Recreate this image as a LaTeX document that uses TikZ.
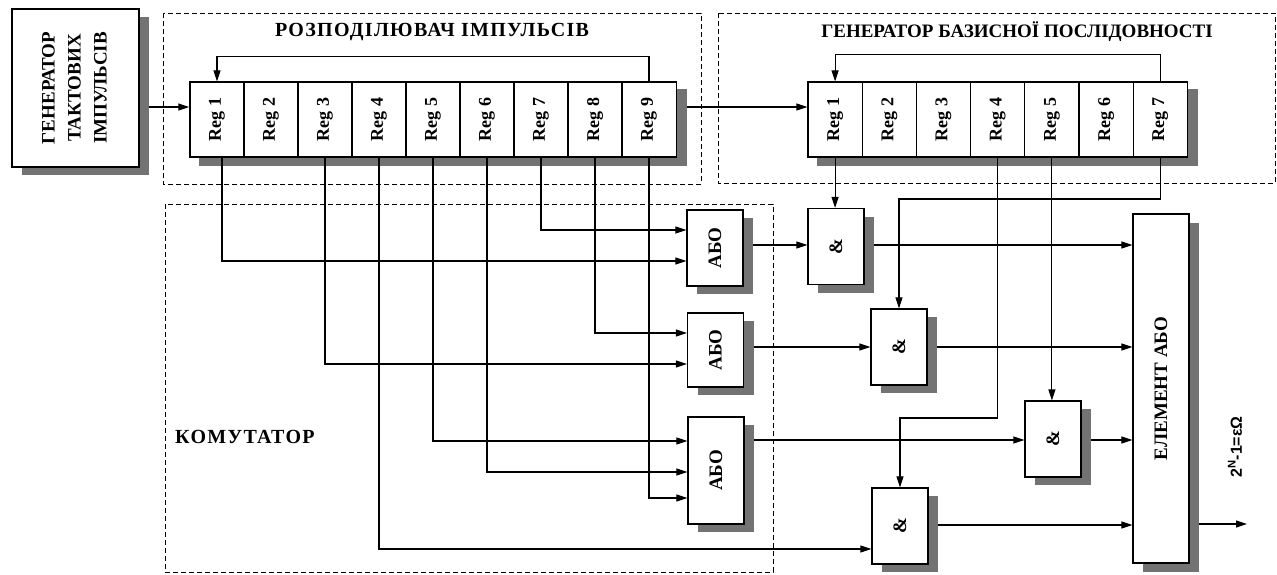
\documentclass[tikz,border=0pt]{standalone}
\usepackage{fontspec}
\setmainfont{Liberation Serif}
\newfontfamily\lblsans{Liberation Sans}
\newfontfamily\spaced[LetterSpace=6.5]{Liberation Serif}
\usetikzlibrary{arrows.meta,shadows,calc}
\pgfdeclarelayer{bg}
\pgfdeclarelayer{wires}
\pgfsetlayers{bg,wires,main}
\tikzset{
  box/.style={draw, line width=1.2pt, fill=white, inner sep=0pt, font=\fontsize{19}{22}\selectfont\bfseries},
  shd/.style={general shadow={fill=black!55, shadow xshift=10pt, shadow yshift=-8pt}},
  reg/.style={box, minimum width=54.2pt, minimum height=75pt, font=\fontsize{18}{20}\selectfont\bfseries},
  gate/.style={box, shd, minimum width=56pt, minimum height=76pt},
  grp/.style={draw, line width=1pt, dash pattern=on 5pt off 3pt},
  wire/.style={line width=1.1pt},
  arr/.style={wire, -{Triangle[length=11pt,width=7pt]}},
  ttl/.style={font=\spaced\fontsize{20}{22}\selectfont\bfseries, inner sep=0pt},
}
\begin{document}
\begin{tikzpicture}[x=1pt,y=-1pt]
\useasboundingbox (0,0) rectangle (1277,574);

% group frames
\draw[grp] (163,13) rectangle (701,184);
\draw[grp] (718,13) rectangle (1275,183);
\draw[grp] (165,204) rectangle (773,572);
\node[ttl] (t1) at (432,32) {РОЗПОДІЛЮВАЧ ІМПУЛЬСІВ};
\node[font=\fontsize{19}{22}\selectfont\bfseries, inner sep=0pt] (t2) at (1017,32) {ГЕНЕРАТОР БАЗИСНОЇ ПОСЛІДОВНОСТІ};
\node[ttl, anchor=west] (t3) at (175,437) {КОМУТАТОР};

% clock generator
\node[box, shd, minimum width=127pt, minimum height=158pt] (gen) at (75.5,88)
  {\rotatebox{90}{\fontsize{19}{26}\selectfont\begin{tabular}{@{}c@{}}ГЕНЕРАТОР\\ТАКТОВИХ\\ІМПУЛЬСІВ\end{tabular}}};

% registers
\foreach \i in {1,...,9}
  \node[reg] (r\i) at ({190+54*(\i-0.5)},119.5) {\rotatebox{90}{Reg \i}};
\foreach \i in {1,...,7}
  \node[reg] (g\i) at ({808+54.2*(\i-0.5)},119.5) {\rotatebox{90}{Reg \i}};
\begin{pgfonlayer}{bg}
  \fill[black!55] ($(r1.north west)+(10,8)$) rectangle ($(r9.south east)+(10,8)$);
  \fill[black!55] ($(g1.north west)+(10,8)$) rectangle ($(g7.south east)+(10,8)$);
\end{pgfonlayer}

% gates
\node[gate] (o1) at (715,248) {\rotatebox{90}{АБО}};
\node[gate, minimum height=74pt] (o2) at (715.5,350) {\rotatebox{90}{АБО}};
\node[gate, minimum height=107pt] (o3) at (716,470.5) {\rotatebox{90}{АБО}};
\node[gate] (a1) at (836,246.5) {\rotatebox{90}{\&}};
\node[gate] (a2) at (899,347) {\rotatebox{90}{\&}};
\node[gate] (a3) at (1053,439) {\rotatebox{90}{\&}};
\node[gate] (a4) at (900,526) {\rotatebox{90}{\&}};
\node[box, general shadow={fill=black!55, shadow xshift=10pt, shadow yshift=-9pt},
  minimum width=56pt, minimum height=349pt] (el) at (1161,388.5) {\rotatebox{90}{ЕЛЕМЕНТ АБО}};

\coordinate (ck) at (0,107);
\coordinate (out) at (1247,524);
\node[font={\lblsans\bfseries\fontsize{16}{18}\selectfont}, rotate=90, inner sep=0pt] (lab) at (1235,447) {2\textsuperscript{N}-1=εΩ};

\begin{pgfonlayer}{wires}
  \draw[arr] (gen.east |- ck) -- (r1.west |- ck);
  \draw[arr] (r9.north) -- ++(0,-25) -| (r1.north);
  \draw[arr] ($(r9.east |- ck)+(10,0)$) -- (g1.west |- ck);
  \draw[arr] (g7.north) -- ++(0,-27) -| (g1.north);
  % distributor to commutator
  \draw[arr] ($(r1.south)+(5,0)$) |- (o1.west |- 0,261);
  \draw[arr] (r7.south) |- (o1.west |- 0,230);
  \draw[arr] (r8.south) |- (o2.west |- 0,333);
  \draw[arr] (r3.south) |- (o2.west |- 0,364);
  \draw[arr] (r5.south) |- (o3.west |- 0,441);
  \draw[arr] (r6.south) |- (o3.west |- 0,472);
  \draw[arr] (r9.south) |- (o3.west |- 0,498);
  \draw[arr] (r4.south) |- (a4.west |- 0,549);
  % OR to AND
  \draw[arr] (o1.east |- 0,245) -- (a1.west |- 0,245);
  \draw[arr] (o2.east |- 0,347) -- (a2.west |- 0,347);
  \draw[arr] (o3.east |- 0,440) -- (a3.west |- 0,440);
  % base sequence to AND
  \draw[arr] (g1.south) -- (g1.south |- a1.north);
  \draw[arr] (g7.south) -- (g7.south |- 0,199) -| (a2.north);
  \draw[arr] (g5.south) -- (g5.south |- a3.north);
  \draw[arr] (g4.south) -- (g4.south |- 0,418) -| (a4.north);
  % AND to output element
  \draw[arr] (a1.east |- 0,245) -- (el.west |- 0,245);
  \draw[arr] (a2.east |- 0,347) -- (el.west |- 0,347);
  \draw[arr] (a3.east |- 0,440) -- (el.west |- 0,440);
  \draw[arr] (a4.east |- 0,525) -- (el.west |- 0,525);
  \draw[arr] (el.east |- out) -- (out);
\end{pgfonlayer}
\end{tikzpicture}
\end{document}
